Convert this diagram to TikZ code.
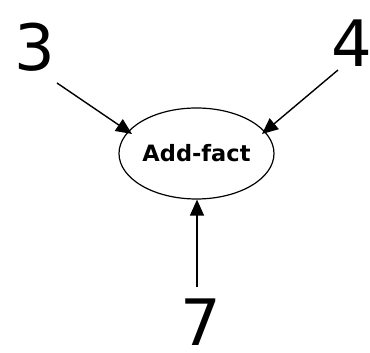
\documentclass[tikz,border=0pt]{standalone}
\usepackage{fontspec}
\setmainfont{DejaVu Sans}
\usetikzlibrary{arrows.meta,shapes.geometric}
\begin{document}
\begin{tikzpicture}[x=1pt,y=1pt,
  digit/.style={inner sep=0pt,font=\fontsize{64}{64}\selectfont},
  conn/.style={line width=1.4pt,-{Triangle[length=16pt,width=14pt]}},
  factbox/.style={ellipse,draw,line width=1.2pt,minimum width=155pt,minimum height=91pt,inner sep=0pt,font=\fontsize{22.5}{22.5}\selectfont\bfseries}]
\useasboundingbox (0,0) rectangle (370,353);
\node[digit] (n3) at (35,306) {3};
\node[digit] (n4) at (352,310) {4};
\node[digit] (n7) at (201,31) {7};
\node[factbox] (e) at (196.5,199.5) {Add-fact};
\coordinate (s3) at (57,270);
\coordinate (t3) at (132,219);
\coordinate (s4) at (338,283);
\coordinate (t4) at (262,219);
\coordinate (s7) at (197,66);
\draw[conn] (s3) -- (t3);
\draw[conn] (s4) -- (t4);
\draw[conn] (s7) -- (s7 |- e.south);
\end{tikzpicture}
\end{document}
